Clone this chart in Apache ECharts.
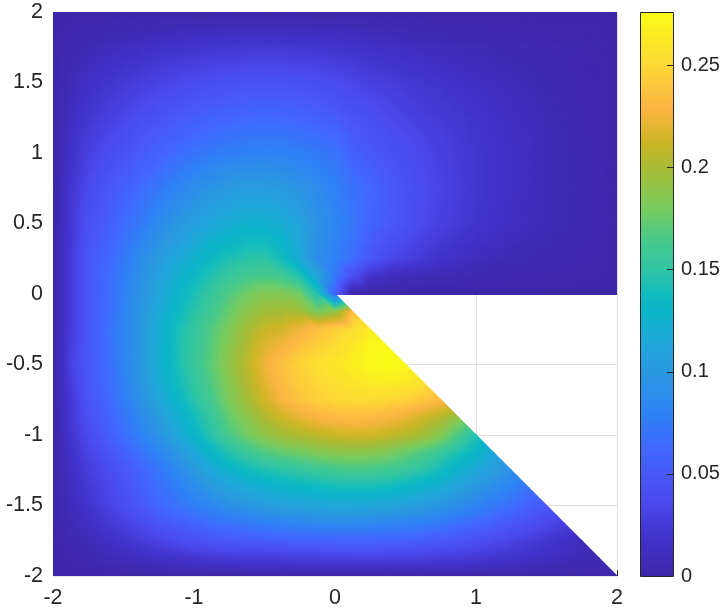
<!DOCTYPE html>
<html>
<head>
<meta charset="utf-8">
<title>Surface</title>
<script src="https://cdn.jsdelivr.net/npm/echarts@6/dist/echarts.min.js"></script>
<style>
  html, body { margin: 0; padding: 0; background: #fff; }
  #main { width: 725px; height: 612px; }
</style>
</head>
<body>
<div id="main"></div>
<script>
// node positions of the table below
const xNodes = [-2,-1.875,-1.75,-1.625,-1.5,-1.375,-1.25,-1.125,-1,-0.875,-0.75,-0.625,-0.5,-0.375,-0.25,-0.125,0,0.125,0.25,0.375,0.5,0.625,0.75,0.875,1,1.125,1.25,1.375,1.5,1.625,1.75,1.875,2];
const yNodes = [2,1.875,1.75,1.625,1.5,1.375,1.25,1.125,1,0.875,0.75,0.625,0.5,0.375,0.25,0.125,0,-0.125,-0.25,-0.375,-0.5,-0.625,-0.75,-0.875,-1,-1.125,-1.25,-1.375,-1.5,-1.625,-1.75,-1.875,-2];

// values, in thousandths, one row per yNodes entry
// rows below y=0 stop at the diagonal edge
const zRows = [
  [0,0,0,0,0,0,0,0,0,0,0,0,0,0,0,0,0,0,0,0,0,0,0,0,0,0,0,0,0,0,0,0,0],
  [0,2,4,5,6,7,8,9,10,10,11,11,11,11,11,10,10,9,8,7,6,6,5,4,4,3,3,2,2,1,1,1,0],
  [0,4,7,10,12,14,16,18,20,21,22,23,23,23,22,21,20,18,16,14,13,11,10,9,8,6,5,4,3,2,2,1,0],
  [0,6,11,15,18,21,24,27,29,31,33,34,34,34,33,31,29,26,23,20,18,16,14,12,11,9,8,6,5,4,2,2,0],
  [0,8,15,20,24,28,32,35,38,41,43,44,44,44,43,41,38,34,30,27,24,21,19,16,14,12,10,8,6,5,3,2,0],
  [0,10,18,24,29,34,38,42,46,49,51,53,53,53,51,49,45,40,36,32,28,25,22,19,17,14,12,10,7,5,3,2,0],
  [0,12,22,28,34,40,45,50,54,58,60,62,63,62,60,57,53,46,41,36,32,28,25,22,19,16,13,11,8,6,4,2,0],
  [0,15,26,33,40,46,52,57,62,66,69,71,72,72,69,66,62,52,46,41,36,32,28,24,20,17,14,12,9,6,4,2,0],
  [0,17,30,38,45,52,58,64,70,75,78,80,82,81,78,75,70,58,50,45,40,35,30,26,22,18,15,12,9,7,5,3,0],
  [0,18,33,42,50,58,65,73,80,86,90,92,93,91,87,81,75,64,56,49,42,36,31,26,22,18,15,12,9,7,5,3,0],
  [0,20,37,47,56,65,73,82,90,97,102,105,105,102,97,88,80,70,62,53,45,38,32,27,22,18,15,12,9,7,5,3,0],
  [0,21,40,50,60,70,80,90,98,106,111,115,115,111,103,92,82,71,61,52,44,37,31,26,21,17,14,11,9,7,5,3,0],
  [0,22,43,53,65,75,88,98,107,115,120,125,125,120,110,96,84,73,60,52,44,36,30,25,20,17,14,11,9,7,5,3,0],
  [0,24,46,56,69,82,95,106,116,125,131,136,137,129,114,93,82,70,54,44,37,30,24,19,15,13,10,8,7,5,4,2,0],
  [0,25,50,60,73,90,103,115,125,135,143,148,150,138,118,90,80,66,48,36,30,24,18,14,11,9,7,6,5,4,3,2,0],
  [0,25,49,63,77,93,108,122,134,146,155,162,165,160,145,112,75,40,18,12,9,7,6,5,4,4,3,3,2,2,1,1,0],
  [0,25,48,62,80,97,112,128,142,155,168,178,185,185,178,145,60,0,0,0,0,0,0,0,0,0,0,0,0,0,0,0,0],
  [0,25,49,63,81,98,116,134,148,161,175,188,197,200,198,180,190,235],
  [0,26,50,65,83,100,120,140,153,168,183,198,210,214,225,235,245,252,265],
  [0,28,50,64,83,100,121,140,155,170,187,203,218,226,238,246,252,262,272,276],
  [0,30,50,63,83,100,122,140,156,172,190,207,224,237,247,255,261,267,274,276,272],
  [0,27,49,62,80,98,118,136,152,168,186,203,219,233,243,250,255,260,265,266,264,256],
  [0,24,47,60,77,95,112,130,147,163,182,198,214,228,238,245,250,252,252,250,246,240,232],
  [0,22,43,56,71,87,103,121,138,155,174,188,202,213,221,228,232,233,232,228,222,213,205,190],
  [0,20,38,52,66,80,95,112,130,148,165,178,190,198,203,208,212,214,214,210,205,198,185,165,145],
  [0,17,32,44,57,70,83,98,115,131,146,157,167,173,178,183,187,188,186,182,175,166,155,143,130,115],
  [0,14,27,37,48,60,72,85,100,115,127,137,143,148,152,157,161,163,163,160,155,148,138,125,115,105,93],
  [0,12,23,33,44,55,67,77,89,100,110,117,123,128,131,135,138,139,138,136,131,125,118,108,99,90,80,70],
  [0,10,20,30,40,50,62,70,78,85,93,98,103,108,110,113,115,115,113,112,108,103,98,90,83,75,67,58,50],
  [0,7,14,22,30,38,47,54,60,66,71,75,78,82,84,86,87,87,86,84,82,78,74,68,62,56,49,42,36,29],
  [0,4,9,14,20,26,32,38,43,47,50,52,54,56,58,59,60,60,60,58,57,54,50,46,42,37,32,27,22,16,10],
  [0,2,4,7,10,13,16,19,21,23,24,25,26,27,28,28,29,30,30,30,29,28,27,25,23,21,19,16,13,10,8,5],
  [0,0,0,0,0,0,0,0,0,0,0,0,0,0,0,0,0,0,0,0,0,0,0,0,0,0,0,0,0,0,0,0,0]
];

// tick labels
const xTickInterval = 1;
const yTickInterval = 0.5;
const colorbarTicks = [0, 0.05, 0.1, 0.15, 0.2, 0.25];
const colorMax = 0.276;

// colormap as seen on the colorbar
const cmapValues = [0, 0.019, 0.036, 0.05, 0.063, 0.08, 0.1, 0.1155, 0.13, 0.1375, 0.15, 0.164, 0.18, 0.2, 0.213, 0.229, 0.25, 0.276];
const cmapColors = ['#3e26a8','#4232cc','#4a48ec','#4858f8','#4068ff','#2e82f5','#2a98e0','#1ea8d8','#0ab5c8','#10bbc0','#2fc4a4','#45c98c','#78cc5e','#a8bb34','#cfb525','#fdb544','#fdd835','#f9fb15'];

const TEXT = '#262626';
const FONT = '"Liberation Sans", Arial, sans-serif';

const hexRgb = (h) => [1, 3, 5].map(k => parseInt(h.substr(k, 2), 16));
const cmapRgb = cmapColors.map(hexRgb);

const colorOf = (v) => {
  if (v <= cmapValues[0]) return cmapColors[0];
  for (let k = 1; k < cmapValues.length; k++) {
    if (v <= cmapValues[k]) {
      const t = (v - cmapValues[k - 1]) / (cmapValues[k] - cmapValues[k - 1]);
      const a = cmapRgb[k - 1], b = cmapRgb[k];
      return `rgb(${a.map((c, n) => Math.round(c + (b[n] - c) * t)).join(',')})`;
    }
  }
  return cmapColors[cmapColors.length - 1];
};

// one triangle of the table, filled with the linear ramp through its three values
const triangle = (p1, p2, p3, v1, v2, v3, lineWidth) => {
  const vs = [v1, v2, v3], ps = [p1, p2, p3];
  const lo = Math.min(v1, v2, v3), hi = Math.max(v1, v2, v3);
  let fill = colorOf(lo);
  const det = (p2[0] - p1[0]) * (p3[1] - p1[1]) - (p3[0] - p1[0]) * (p2[1] - p1[1]);
  if (hi > lo && det !== 0) {
    const gx = ((v2 - v1) * (p3[1] - p1[1]) - (v3 - v1) * (p2[1] - p1[1])) / det;
    const gy = ((p2[0] - p1[0]) * (v3 - v1) - (p3[0] - p1[0]) * (v2 - v1)) / det;
    const g2 = gx * gx + gy * gy;
    const start = ps[vs.indexOf(lo)];
    const stops = [];
    for (let k = 0; k <= 6; k++) {
      stops.push({ offset: k / 6, color: colorOf(lo + (hi - lo) * k / 6) });
    }
    fill = {
      type: 'linear',
      global: true,
      x: start[0],
      y: start[1],
      x2: start[0] + gx / g2 * (hi - lo),
      y2: start[1] + gy / g2 * (hi - lo),
      colorStops: stops
    };
  }
  return {
    type: 'polygon',
    shape: { points: [p1, p2, p3] },
    style: { fill: fill, stroke: fill, lineWidth: lineWidth, lineJoin: 'round' }
  };
};

const surfaceData = [];
zRows.forEach((row, j) => {
  row.forEach((z, i) => surfaceData.push([xNodes[i], yNodes[j], z / 1000, i, j]));
});

const renderCell = (params, api) => {
  const i = api.value(3), j = api.value(4);
  const top = zRows[j], bottom = zRows[j + 1];
  if (!bottom || i + 1 >= xNodes.length) return;
  const tl = top[i], tr = top[i + 1], bl = bottom[i], br = bottom[i + 1];
  const pTL = api.coord([xNodes[i], yNodes[j]]);
  const pTR = api.coord([xNodes[i + 1], yNodes[j]]);
  const pBL = api.coord([xNodes[i], yNodes[j + 1]]);
  const pBR = api.coord([xNodes[i + 1], yNodes[j + 1]]);
  // cells resting on the flat edge of the cut-out get a clean bottom line
  const onFlatEdge = yNodes[j + 1] === 0 && xNodes[i] >= 0;
  const lineWidth = onFlatEdge ? 2 : 1.2;
  const children = [];
  if (bl !== undefined && br !== undefined) {
    children.push(triangle(pTL, pBL, pBR, tl / 1000, bl / 1000, br / 1000, lineWidth));
  }
  // upper half is missing along the cut-out
  const inCut = yNodes[j] <= 0 && xNodes[i + 1] > -yNodes[j];
  if (tr !== undefined && br !== undefined && !inCut) {
    children.push(triangle(pTL, pTR, pBR, tl / 1000, tr / 1000, br / 1000, lineWidth));
  }
  const group = { type: 'group', children: children };
  if (onFlatEdge) {
    group.clipPath = {
      type: 'rect',
      shape: { x: pTL[0] - 2, y: pTL[1] - 2, width: pTR[0] - pTL[0] + 4, height: pBL[1] - pTL[1] + 3 }
    };
  }
  return group;
};

const tickMark = (x1, y1, x2, y2) => ({
  type: 'line',
  shape: { x1: x1, y1: y1, x2: x2, y2: y2 },
  style: { stroke: TEXT, lineWidth: 1 }
});

const renderColorbar = (params, api) => {
  const a = api.coord([0, api.value(1)]);
  const b = api.coord([1, api.value(2)]);
  const bar = {
    type: 'rect',
    // half pixel so the 1px border stays crisp
    shape: { x: a[0] + 0.5, y: b[1] + 0.5, width: b[0] - a[0], height: a[1] - b[1] },
    style: {
      fill: {
        type: 'linear', x: 0, y: 1, x2: 0, y2: 0,
        colorStops: cmapValues.map((v, k) => ({ offset: v / colorMax, color: cmapColors[k] }))
      },
      stroke: TEXT,
      lineWidth: 1
    }
  };
  const ticks = colorbarTicks.map(v => {
    const p = api.coord([1, v]);
    return tickMark(p[0] - 6, Math.round(p[1]) + 0.5, p[0], Math.round(p[1]) + 0.5);
  });
  return { type: 'group', children: [bar, ...ticks] };
};

// only the tick at the far corner shows past the surface
const renderCornerTick = (params, api) => {
  const p = api.coord([api.value(0), api.value(1)]);
  return tickMark(p[0] + 0.5, p[1], p[0] + 0.5, p[1] - 6);
};

const labelStyle = { color: TEXT, fontSize: 21.5, fontFamily: FONT };

const option = {
  animation: false,
  backgroundColor: '#fff',
  grid: [
    { left: 53, top: 12, width: 564, height: 564 },
    { left: 640, top: 12, width: 33, height: 564 }
  ],
  xAxis: [
    {
      type: 'value', min: -2, max: 2, interval: xTickInterval,
      axisLine: { show: false, onZero: false },
      axisTick: { show: false },
      axisLabel: { ...labelStyle, margin: 11 },
      splitLine: { show: true, lineStyle: { color: '#e0e0e0', width: 1 } }
    },
    { type: 'value', gridIndex: 1, min: 0, max: 1, show: false }
  ],
  yAxis: [
    {
      type: 'value', min: -2, max: 2, interval: yTickInterval,
      axisLine: { show: false, onZero: false },
      axisTick: { show: false },
      axisLabel: { ...labelStyle, margin: 10 },
      splitLine: { show: true, lineStyle: { color: '#e0e0e0', width: 1 } }
    },
    {
      type: 'value', gridIndex: 1, position: 'right', min: 0, max: colorMax,
      axisLine: { show: false, onZero: false },
      axisTick: { show: false },
      axisLabel: { ...labelStyle, fontSize: 20, margin: 8, customValues: colorbarTicks },
      splitLine: { show: false }
    }
  ],
  series: [
    {
      name: 'surface',
      type: 'custom',
      coordinateSystem: 'cartesian2d',
      xAxisIndex: 0,
      yAxisIndex: 0,
      clip: true,
      progressive: 0,
      encode: { x: 0, y: 1 },
      data: surfaceData,
      renderItem: renderCell
    },
    {
      name: 'corner tick',
      type: 'custom',
      coordinateSystem: 'cartesian2d',
      xAxisIndex: 0,
      yAxisIndex: 0,
      z: 5,
      encode: { x: 0, y: 1 },
      data: [[2, -2]],
      renderItem: renderCornerTick
    },
    {
      name: 'colorbar',
      type: 'custom',
      coordinateSystem: 'cartesian2d',
      xAxisIndex: 1,
      yAxisIndex: 1,
      encode: { y: [1, 2] },
      data: [[0, 0, colorMax]],
      renderItem: renderColorbar
    }
  ]
};

const chart = echarts.init(document.getElementById('main'), null, { renderer: 'canvas' });
chart.setOption(option);
</script>
</body>
</html>
